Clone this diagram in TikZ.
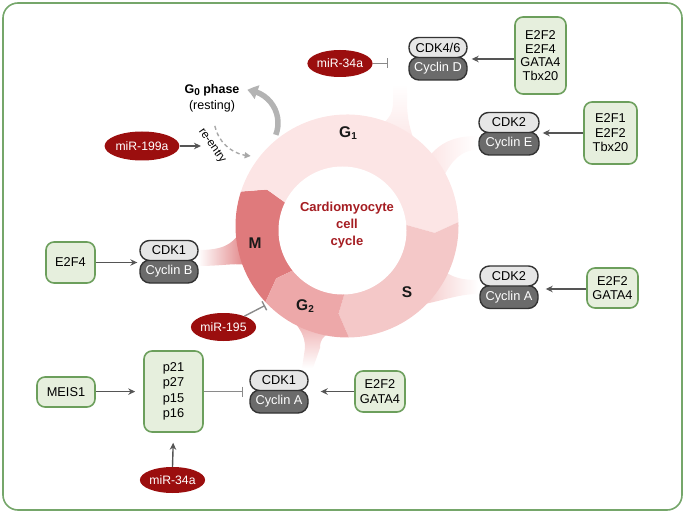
\documentclass[tikz,border=0pt]{standalone}
\usepackage{fontspec}
\setmainfont{Liberation Sans}
\usetikzlibrary{arrows.meta,calc,shapes.geometric,bending}

\definecolor{frameg}{HTML}{75A66A}
\definecolor{boxg}{HTML}{6C9F5C}
\definecolor{boxfill}{HTML}{E6EFDD}
\definecolor{mir}{HTML}{9B0E0E}
\definecolor{cardio}{HTML}{A51D22}
\definecolor{arrg}{HTML}{555555}
\definecolor{inhg}{HTML}{8A8A8A}
\definecolor{pilltop}{HTML}{E6E6E6}
\definecolor{pillbot}{HTML}{6B6B6B}
\definecolor{pilledge}{HTML}{333333}
\definecolor{gone}{HTML}{FCE5E5}
\definecolor{scol}{HTML}{F4C8C8}
\definecolor{gtwo}{HTML}{EDA8A9}
\definecolor{mcol}{HTML}{DF7A7C}
\definecolor{goarr}{HTML}{B3B3B3}
\definecolor{dashg}{HTML}{A8A8A8}

\newcommand\subx[1]{\raisebox{-0.3ex}{\fontsize{10}{10}\selectfont #1}}
\newcommand\ringseg[3]{\fill[#1] (O) -- ($(O)+(#2:56)$) -- ($(O)+(#2+6.5:88)$) -- ($(O)+(#2:111.5)$) arc[start angle=#2, end angle=#3, radius=111.5] -- ($(O)+(#3+6.5:88)$) -- ($(O)+(#3:56)$) -- cycle;}

\tikzset{
 tf/.style={font=\fontsize{12.8}{14.5}\selectfont},
 gbox/.style={draw=boxg, fill=boxfill, line width=1.6pt, rounded corners=8pt, align=center, inner sep=0pt, tf},
 cdk/.style={draw=pilledge, fill=pilltop, line width=1.4pt, rounded corners=9.5pt, minimum width=58pt, minimum height=20pt, inner sep=0pt, tf},
 cyc/.style={draw=pilledge, fill=pillbot, text=white, line width=1.4pt, rounded corners=10pt, minimum width=58pt, minimum height=23pt, inner sep=0pt, tf},
 mirna/.style={ellipse, fill=mir, text=white, inner sep=0pt, minimum width=54pt, minimum height=27pt, font=\fontsize{12.2}{12}\selectfont},
 act/.style={draw=arrg, line width=1.4pt, -{Stealth[length=7pt,width=6.5pt]}},
 inh/.style={draw=inhg, line width=1.4pt, -{Bar[width=10pt]}},
 phl/.style={font=\bfseries\fontsize{15.5}{16}\selectfont, text=black!90}
}

\begin{document}
\begin{tikzpicture}[x=1pt,y=-1pt]
\useasboundingbox (0,0) rectangle (685,513);
\draw[frameg, line width=1.6pt, rounded corners=15pt] (3,3) rectangle (682,510);

% tubes from the ring to the complexes
\shade[top color=white, bottom color=gone] (393,84) -- (407,84) -- (407,102) .. controls (407,118) and (410,130) .. (416,146) -- (382,124) .. controls (390,118) and (393,112) .. (393,102) -- cycle;
\shade[left color=gone, right color=white] (477,136) .. controls (455,136) and (440,142) .. (428,158) -- (444,176) .. controls (452,160) and (462,150) .. (477,150) -- cycle;
\shade[left color=scol, right color=white] (478,280) .. controls (462,280) and (452,278) .. (440,268) -- (420,305) .. controls (445,300) and (460,294) .. (478,294) -- cycle;
\shade[left color=white, right color=mcol] (198,250) .. controls (222,250) and (232,245) .. (240,232) -- (250,266) .. controls (238,262) and (225,266) .. (198,266) -- cycle;
\shade[top color=gtwo, bottom color=white] (292,318) .. controls (300,330) and (305,335) .. (305,348) -- (302,368) -- (313,368) -- (320,348) .. controls (320,338) and (325,334) .. (338,330) -- cycle;

% ring
\coordinate (O) at (347,226);
\ringseg{mcol}{137}{198}
\ringseg{gone}{198}{358}
\ringseg{scol}{358}{449}
\ringseg{gtwo}{449}{497}
\fill[white] (342.5,230.5) circle[radius=64];

\node[phl] (lg1) at (348,133) {G\subx{1}};
\node[phl] (lm) at (255,243) {M};
\node[phl] (lg2) at (305,306) {G\subx{2}};
\node[phl] (ls) at (407,292) {S};
\node[text=cardio, font=\bfseries\fontsize{13}{16.7}\selectfont, align=center] (cc) at (347,225) {Cardiomyocyte\\cell\\cycle};

% G0
\node[font=\fontsize{12.5}{16}\selectfont, align=center] (g0) at (212,98) {\textbf{G\subx{0} phase}\\(resting)};
\coordinate (g0s) at ($(245,123)+(21:33)$);
\draw[goarr, line width=5.5pt, -{Triangle[length=10pt,width=14pt,bend]}] (g0s) arc[start angle=21, end angle=-86, radius=33];
\coordinate (res) at ($(252,118)+(168:38)$);
\draw[dashg, line width=1.4pt, dash pattern=on 4pt off 3pt, -{Triangle[length=6pt,width=6pt]}] (res) arc[start angle=168, end angle=92, radius=38];
\node[rotate=-55, font=\fontsize{11.5}{12}\selectfont] (reent) at (212,146) {re-entry};

% complexes
\node[cyc] (cycD) at (438,68.5) {Cyclin D};
\node[cdk] (cdkD) at (438,47.5) {CDK4/6};
\node[cyc, minimum width=60pt] (cycE) at (509,143.5) {Cyclin E};
\node[cdk, minimum width=60pt] (cdkE) at (509,122.5) {CDK2};
\node[cyc] (cycB) at (169,271.5) {Cyclin B};
\node[cdk] (cdkB) at (169,250.5) {CDK1};
\node[cyc] (cycAS) at (509,297) {Cyclin A};
\node[cdk] (cdkAS) at (509,276) {CDK2};
\node[cyc] (cycG) at (279,401.5) {Cyclin A};
\node[cdk] (cdkG) at (279,380.5) {CDK1};

% green boxes
\node[gbox, minimum width=51pt, minimum height=77pt, font=\fontsize{12.8}{13.8}\selectfont] (e2fD) at (540.5,55.5) {E2F2\\E2F4\\GATA4\\Tbx20};
\node[gbox, minimum width=53pt, minimum height=62pt] (e2fE) at (610.5,133) {E2F1\\E2F2\\Tbx20};
\node[gbox, minimum width=49pt, minimum height=41pt] (e2fB) at (70.5,262.5) {E2F4};
\node[gbox, minimum width=51pt, minimum height=40pt] (e2fAS) at (612.5,288) {E2F2\\GATA4};
\node[gbox, minimum width=58pt, minimum height=30pt] (meis) at (66,392) {MEIS1};
\node[gbox, minimum width=59pt, minimum height=81pt, font=\fontsize{12.8}{15.3}\selectfont] (pbox) at (173.5,391.5) {p21\\p27\\p15\\p16};
\node[gbox, minimum width=50pt, minimum height=41pt, font=\fontsize{12.8}{15}\selectfont] (e2fG) at (380,391.5) {E2F2\\GATA4};

% microRNAs
\node[mirna] (m34t) at (340,63.5) {miR-34a};
\node[mirna, minimum width=59pt, minimum height=29pt] (m199) at (142,146) {miR-199a};
\node[mirna, minimum width=55pt, minimum height=28pt] (m195) at (223.5,327) {miR-195};
\node[mirna, minimum height=26pt] (m34b) at (172.5,480) {miR-34a};

% connectors
\draw[act, shorten >=4pt] ([yshift=-3.5pt]e2fD.west) -- ([yshift=-3.5pt]e2fD.west -| cycD.north east);
\draw[inh, shorten >=20pt] (m34t.east) -- (m34t.east -| cdkD.west);
\draw[act, shorten >=3pt] (e2fE.west) -- (e2fE.west -| cycE.east);
\draw[act, shorten >=2pt] (e2fB.east) -- (e2fB.east -| cycB.west);
\draw[act, shorten >=7pt] ([yshift=-1pt]e2fAS.west) -- ([yshift=-1pt]e2fAS.west -| cycAS.east);
\draw[act, shorten >=8pt] ([yshift=0.4pt]meis.east) -- ([yshift=0.4pt]meis.east -| pbox.west);
\draw[inh, shorten >=6pt] (pbox.east) -- (pbox.east -| cycG.west);
\draw[act, shorten >=12pt] (e2fG.west) -- (e2fG.west -| cycG.east);
\draw[act, shorten >=10pt] (m34b.north) -- (pbox.south);
\coordinate (m199t) at (201,146);
\draw[act] (m199.east) -- (m199t);
\coordinate (m195bar) at (265,305.5);
\draw[inh] (m195) -- (m195bar);
\end{tikzpicture}
\end{document}
